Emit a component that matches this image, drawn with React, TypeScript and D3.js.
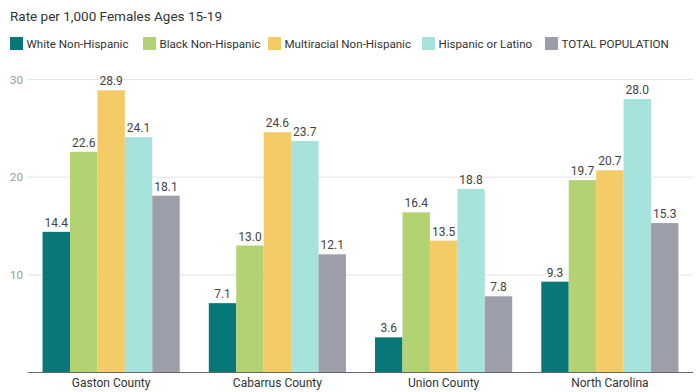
import React from "react";
import * as d3 from "d3";

const categories = ["Gaston County", "Cabarrus County", "Union County", "North Carolina"];
const seriesNames = [
  "White Non-Hispanic",
  "Black Non-Hispanic",
  "Multiracial Non-Hispanic",
  "Hispanic or Latino",
  "TOTAL POPULATION",
];
const white = [14.4, 7.1, 3.6, 9.3];
const black = [22.6, 13.0, 16.4, 19.7];
const multiracial = [28.9, 24.6, 13.5, 20.7];
const hispanic = [24.1, 23.7, 18.8, 28.0];
const total = [18.1, 12.1, 7.8, 15.3];
const seriesValues = [white, black, multiracial, hispanic, total];
const colors = ["#087777", "#b3d272", "#f3cc68", "#a6e3dd", "#9c9fa9"];
const yTicks = [10, 20, 30];
const title = "Rate per 1,000 Females Ages 15-19";

const W = 699;
const H = 392;
const FONT = "Roboto, 'Noto Sans', sans-serif";

export default function App() {
  const left = 28;
  const right = 693;
  const top = 79.5;
  const bottom = 372.5;

  const x0 = d3
    .scaleBand<string>()
    .domain(categories)
    .range([left, right])
    .paddingInner(0.175)
    .paddingOuter(0.0875);
  const x1 = d3
    .scaleBand<number>()
    .domain(d3.range(seriesNames.length))
    .range([0, x0.bandwidth()])
    .padding(0);
  const y = d3.scaleLinear().domain([0, 30]).range([bottom, top]);

  const legendX = [10, 143, 268, 422, 545];

  return (
    <svg
      width={W}
      height={H}
      style={{ position: "absolute", left: 0, top: 0, background: "#fff" }}
      fontFamily={FONT}
    >
      <text x={10} y={21} fontSize={13.5} fill="#333">
        {title}
      </text>
      {seriesNames.map((s, i) => (
        <g key={s}>
          <rect x={legendX[i]} y={37} width={13} height={13} fill={colors[i]} />
          <text x={legendX[i] + 16.5} y={48} fontSize={11.6} fill="#333">
            {s}
          </text>
        </g>
      ))}
      {yTicks.map((t) => (
        <g key={t}>
          <line x1={left} x2={right} y1={y(t)} y2={y(t)} stroke="#e3e3e3" strokeWidth={1} />
          <text x={10} y={y(t) + 4} fontSize={11.5} fill="#9a9a9a">
            {t}
          </text>
        </g>
      ))}
      {categories.map((c, ci) => (
        <g key={c} transform={`translate(${x0(c)},0)`}>
          {seriesValues.map((vals, si) => {
            const v = vals[ci];
            const bx = x1(si)!;
            const bw = x1.bandwidth();
            return (
              <g key={si}>
                <rect x={bx} y={y(v)} width={bw} height={y(0) - y(v)} fill={colors[si]} />
                <text
                  x={bx + bw / 2}
                  y={y(v) - 5}
                  fontSize={12}
                  fill="#444"
                  textAnchor="middle"
                >
                  {v.toFixed(1)}
                </text>
              </g>
            );
          })}
          <text
            x={x0.bandwidth() / 2}
            y={387}
            fontSize={12}
            fill="#333"
            textAnchor="middle"
          >
            {c}
          </text>
        </g>
      ))}
      <line x1={left} x2={right} y1={y(0)} y2={y(0)} stroke="#666" strokeWidth={1.2} />
    </svg>
  );
}
